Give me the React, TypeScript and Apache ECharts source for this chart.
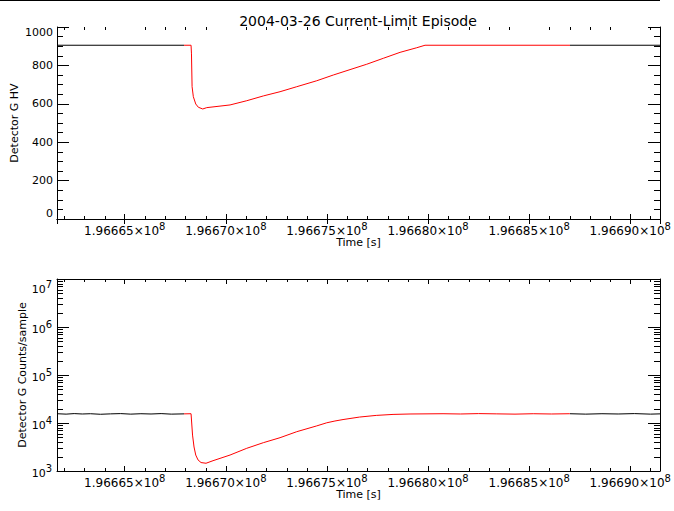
import React, { useEffect, useRef } from "react";
import * as echarts from "echarts";

// ---- Data ----
const TITLE = "2004-03-26 Current-Limit Episode";
const X_MIN = 196661650;
const X_MAX = 196691470;
const RED_START = 196667933;
const RED_END = 196687000;

// Detector G HV  [time (s), HV]
const hvData: [number, number][] = [
  [196661650, 905], [196667933, 905], [196668279, 905], [196668300, 860],
  [196668330, 689], [196668392, 637], [196668511, 599], [196668640, 582],
  [196668857, 573], [196669055, 580], [196670207, 594], [196671033, 616],
  [196671854, 641], [196672680, 663], [196673505, 689], [196674494, 720],
  [196675315, 750], [196676141, 778], [196676967, 806], [196677788, 837],
  [196678614, 868], [196679439, 892], [196679850, 905], [196691470, 905],
];

// Detector G Counts/sample  [time (s), counts]
const countsData: [number, number][] = [
  [196661650, 15600], [196662100, 15300], [196662500, 15700], [196662900, 15400],
  [196663300, 15600], [196663800, 15200], [196664300, 15500], [196664800, 15700],
  [196665300, 15300], [196665800, 15600], [196666300, 15400], [196666800, 15700],
  [196667300, 15300], [196667933, 15500], [196668279, 15600], [196668300, 15400],
  [196668353, 5600], [196668427, 3160], [196668511, 2150], [196668625, 1700],
  [196668773, 1500], [196669020, 1450], [196669366, 1640], [196670207, 2150],
  [196671033, 2970], [196671854, 3890], [196672680, 4940], [196673505, 6590],
  [196674494, 8700], [196674989, 10100], [196675395, 11000], [196675795, 11800],
  [196676613, 13300], [196677438, 14400], [196678268, 15100], [196679108, 15400],
  [196680740, 15600], [196681600, 15400], [196682500, 15700], [196683400, 15500],
  [196684300, 15300], [196685200, 15600], [196686100, 15400], [196687000, 15600],
  [196687800, 15300], [196688600, 15600], [196689400, 15400], [196690200, 15700],
  [196691000, 15300], [196691470, 15500],
];

const HV_TICKS = { min: 0, max: 1000, interval: 200 };
const LOG_RANGE = { min: 1e3, max: 1e7 };
const X_MAJOR = 5000;
const X_MINOR = 1000;

const FONT = "DejaVu Sans";

function xMinorTicks(): number[] {
  const out: number[] = [];
  for (let t = Math.ceil(X_MIN / X_MINOR) * X_MINOR; t < X_MAX; t += X_MINOR) {
    if (t % X_MAJOR !== 0) out.push(t);
  }
  return out;
}

function logMinorTicks(): number[] {
  const out: number[] = [];
  for (let d = LOG_RANGE.min; d < LOG_RANGE.max; d *= 10) {
    for (let k = 2; k <= 9; k++) out.push(k * d);
  }
  return out;
}

export default function App() {
  const ref = useRef<HTMLDivElement>(null);

  useEffect(() => {
    if (!ref.current) return;
    const chart = echarts.init(ref.current, undefined, { renderer: "svg" });

    const black = "#000000";
    const xRich = {
      a: { fontFamily: FONT, fontSize: 12, color: black, verticalAlign: "bottom" as const },
      b: { fontFamily: FONT, fontSize: 10, color: black, verticalAlign: "bottom" as const, padding: [0, 0, 6, 0] },
    };
    const logRich = {
      a: { fontFamily: FONT, fontSize: 11, color: black, verticalAlign: "bottom" as const },
      b: { fontFamily: FONT, fontSize: 10, color: black, verticalAlign: "bottom" as const, padding: [0, 0, 6, 0] },
    };

    const xBottom = (gridIndex: number) => ({
      type: "value" as const,
      gridIndex,
      position: "bottom" as const,
      min: X_MIN,
      max: X_MAX,
      splitLine: { show: false },
      axisLine: { show: true, lineStyle: { color: black, width: 1 } },
      axisTick: { show: true, inside: true, length: 5, lineStyle: { color: black } },
      axisLabel: {
        show: true,
        margin: 2,
        showMinLabel: false,
        showMaxLabel: false,
        formatter: (v: number) =>
          Math.round(v) % X_MAJOR === 0 ? `{a|${(v / 1e8).toFixed(5)}×10}{b|8}` : "",
        rich: xRich,
      },
      name: "Time [s]",
      nameLocation: "middle" as const,
      nameGap: 18,
      nameMoveOverlap: false,
      nameTextStyle: { fontFamily: FONT, fontSize: 11, color: black },
    });
    const xTop = (gridIndex: number) => ({
      type: "value" as const,
      gridIndex,
      position: "top" as const,
      min: X_MIN,
      max: X_MAX,
      splitLine: { show: false },
      axisLine: { show: true, lineStyle: { color: black, width: 1 } },
      axisTick: { show: true, inside: true, length: 5, lineStyle: { color: black } },
      axisLabel: { show: false },
    });

    const minorX = (xAxisIndex: number, yAxisIndex: number, yRef: number) => ({
      type: "custom" as const,
      xAxisIndex,
      yAxisIndex,
      silent: true,
      data: xMinorTicks().map((t) => [t, yRef]),
      renderItem: (params: any, api: any) => {
        const cs = params.coordSys;
        const x = Math.round(api.coord([api.value(0), yRef])[0]) + 0.5;
        const yb = cs.y + cs.height;
        return {
          type: "group",
          children: [
            { type: "line", shape: { x1: x, y1: yb, x2: x, y2: yb - 3 }, style: { stroke: black, lineWidth: 1 } },
            { type: "line", shape: { x1: x, y1: cs.y, x2: x, y2: cs.y + 3 }, style: { stroke: black, lineWidth: 1 } },
          ],
        };
      },
    });

    const option: any = {
      animation: false,
      backgroundColor: "#ffffff",
      textStyle: { fontFamily: FONT },
      graphic: [
        { type: "rect", shape: { x: 0, y: 0, width: 660, height: 1 }, style: { fill: black } },
        {
          type: "text",
          x: 358,
          y: 21,
          style: {
            text: TITLE,
            fontFamily: FONT,
            fontSize: 14,
            fill: black,
            textAlign: "center",
            textVerticalAlign: "middle",
          },
        },
      ],
      grid: [
        { left: 57, right: 14, top: 27, height: 192 },
        { left: 57, right: 14, top: 279, height: 192 },
      ],
      xAxis: [xBottom(0), xTop(0), xBottom(1), xTop(1)],
      yAxis: [
        {
          type: "value",
          gridIndex: 0,
          position: "left",
          min: HV_TICKS.min,
          max: HV_TICKS.max,
          interval: HV_TICKS.interval,
          splitLine: { show: false },
          axisLine: { show: true, lineStyle: { color: black } },
          axisTick: { show: true, inside: true, length: 12, lineStyle: { color: black } },
          minorTick: { show: true, splitNumber: 4, length: 6, lineStyle: { color: black } },
          axisLabel: {
            margin: 4,
            color: black,
            fontFamily: FONT,
            fontSize: 11,
            formatter: (v: number) => String(v),
            verticalAlignMinLabel: "bottom",
            verticalAlignMaxLabel: "top",
          },
          name: "Detector G HV",
          nameLocation: "middle",
          nameRotate: 90,
          nameGap: 37,
          nameMoveOverlap: false,
          nameTextStyle: { fontFamily: FONT, fontSize: 11, color: black },
        },
        {
          type: "value",
          gridIndex: 0,
          position: "right",
          min: HV_TICKS.min,
          max: HV_TICKS.max,
          interval: HV_TICKS.interval,
          splitLine: { show: false },
          axisLine: { show: true, lineStyle: { color: black } },
          axisTick: { show: true, inside: true, length: 12, lineStyle: { color: black } },
          minorTick: { show: true, splitNumber: 4, length: 6, lineStyle: { color: black } },
          axisLabel: { show: false },
        },
        {
          type: "log",
          logBase: 10,
          gridIndex: 1,
          position: "left",
          min: LOG_RANGE.min,
          max: LOG_RANGE.max,
          splitLine: { show: false },
          axisLine: { show: true, lineStyle: { color: black } },
          axisTick: { show: true, inside: true, length: 12, lineStyle: { color: black } },
          axisLabel: {
            margin: 5,
            formatter: (v: number) => `{a|10}{b|${Math.round(Math.log10(v))}}`,
            rich: logRich,
            verticalAlignMinLabel: "bottom",
            verticalAlignMaxLabel: "top",
          },
          name: "Detector G Counts/sample",
          nameLocation: "middle",
          nameRotate: 90,
          nameGap: 29,
          nameMoveOverlap: false,
          nameTextStyle: { fontFamily: FONT, fontSize: 11, color: black },
        },
        {
          type: "log",
          logBase: 10,
          gridIndex: 1,
          position: "right",
          min: LOG_RANGE.min,
          max: LOG_RANGE.max,
          splitLine: { show: false },
          axisLine: { show: true, lineStyle: { color: black } },
          axisTick: { show: true, inside: true, length: 12, lineStyle: { color: black } },
          axisLabel: { show: false },
        },
      ],
      visualMap: {
        show: false,
        type: "piecewise",
        dimension: 0,
        seriesIndex: [0, 1],
        pieces: [
          { lt: RED_START, color: black },
          { gte: RED_START, lte: RED_END, color: "#ff0000" },
          { gt: RED_END, color: black },
        ],
      },
      series: [
        {
          type: "line",
          xAxisIndex: 0,
          yAxisIndex: 0,
          data: hvData,
          showSymbol: false,
          lineStyle: { width: 1 },
        },
        {
          type: "line",
          xAxisIndex: 2,
          yAxisIndex: 2,
          data: countsData,
          showSymbol: false,
          lineStyle: { width: 1 },
        },
        minorX(0, 0, 500),
        minorX(2, 2, 1e4),
        {
          type: "custom",
          xAxisIndex: 2,
          yAxisIndex: 2,
          silent: true,
          data: logMinorTicks().map((v) => [X_MIN, v]),
          renderItem: (params: any, api: any) => {
            const cs = params.coordSys;
            const y = Math.round(api.coord([X_MIN, api.value(1)])[1]) + 0.5;
            const xl = cs.x;
            const xr = cs.x + cs.width;
            return {
              type: "group",
              children: [
                { type: "line", shape: { x1: xl, y1: y, x2: xl + 6, y2: y }, style: { stroke: black, lineWidth: 1 } },
                { type: "line", shape: { x1: xr, y1: y, x2: xr - 6, y2: y }, style: { stroke: black, lineWidth: 1 } },
              ],
            };
          },
        },
      ],
    };

    chart.setOption(option);
    return () => chart.dispose();
  }, []);

  return (
    <div
      ref={ref}
      style={{ position: "fixed", left: 0, top: 0, width: 674, height: 511, background: "#fff" }}
    />
  );
}
